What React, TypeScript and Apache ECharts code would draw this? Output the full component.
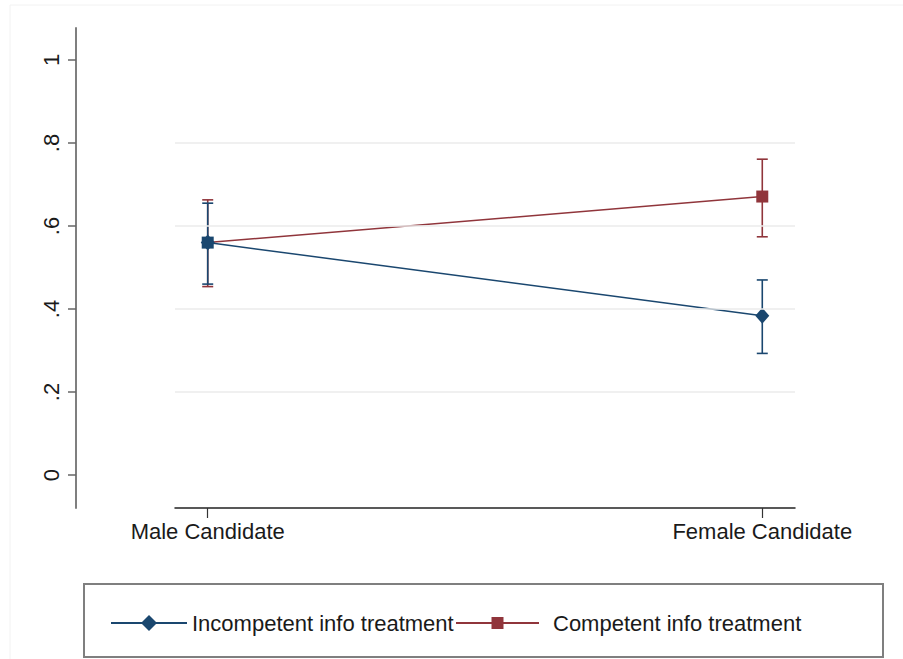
import React, { useEffect, useRef } from "react";
import * as echarts from "echarts";

const categories = ["Male Candidate", "Female Candidate"];
const seriesNames = ["Incompetent info treatment", "Competent info treatment"];
const incompetentMean = [0.56, 0.384];
const incompetentLow = [0.46, 0.293];
const incompetentHigh = [0.655, 0.47];
const competentMean = [0.56, 0.671];
const competentLow = [0.454, 0.574];
const competentHigh = [0.663, 0.761];
const yTicks = [0, 0.2, 0.4, 0.6, 0.8, 1];
const xTicks = [0, 1];
const gridValues = [0.2, 0.4, 0.6, 0.8];

const BLUE = "#1a476f";
const RED = "#90353b";
const FONT = "Liberation Sans, Arial, Helvetica, sans-serif";

function errorBarSeries(name: string, low: number[], high: number[], color: string) {
  return {
    type: "custom",
    name,
    z: 2,
    silent: true,
    data: low.map((l, i) => [i, l, high[i]]),
    encode: { x: 0, y: [1, 2] },
    renderItem: (params: any, api: any) => {
      const x = api.value(0);
      const top = api.coord([x, api.value(2)]);
      const bot = api.coord([x, api.value(1)]);
      const w = 5.5;
      const style = { stroke: color, lineWidth: 1.6 };
      return {
        type: "group",
        children: [
          { type: "line", shape: { x1: top[0], y1: top[1], x2: bot[0], y2: bot[1] }, style },
          { type: "line", shape: { x1: top[0] - w, y1: top[1], x2: top[0] + w, y2: top[1] }, style },
          { type: "line", shape: { x1: bot[0] - w, y1: bot[1], x2: bot[0] + w, y2: bot[1] }, style },
        ],
      };
    },
  };
}

export default function App() {
  const ref = useRef<HTMLDivElement>(null);
  useEffect(() => {
    if (!ref.current) return;
    const chart = echarts.init(ref.current, null, { renderer: "svg" });
    const fmtY = (v: number) => {
      if (v === 0) return "0";
      if (v === 1) return "1";
      return String(Math.round(v * 10) / 10).replace(/^0/, "");
    };
    chart.setOption({
      animation: false,
      backgroundColor: "#ffffff",
      grid: { left: 175, right: 108, top: 28, bottom: 151, containLabel: false },
      xAxis: {
        type: "value",
        min: -0.059,
        max: 1.059,
        axisLine: { show: true, onZero: false, lineStyle: { color: "#222", width: 1.5 } },
        axisTick: { show: true, length: 10, customValues: xTicks, lineStyle: { color: "#333", width: 1.2 } },
        axisLabel: {
          customValues: xTicks,
          formatter: (v: number) => categories[Math.round(v)] ?? "",
          fontSize: 22,
          fontFamily: FONT,
          color: "#1a1a1a",
          margin: 12,
        },
        splitLine: { show: false },
      },
      yAxis: {
        type: "value",
        min: -0.0795,
        max: 1.0771,
        offset: 99,
        axisLine: { show: true, onZero: false, lineStyle: { color: "#7f7f7f", width: 2 } },
        axisTick: { show: true, length: 8, customValues: yTicks, lineStyle: { color: "#666", width: 1.5 } },
        axisLabel: {
          customValues: yTicks,
          rotate: 90,
          formatter: fmtY,
          fontSize: 22,
          fontFamily: FONT,
          color: "#1a1a1a",
          margin: 14,
        },
        splitLine: { show: false },
      },
      legend: [
        {
          data: [seriesNames[0]],
          left: 110,
          top: 612,
          padding: 0,
          itemWidth: 76,
          itemHeight: 20,
          selectedMode: false,
          textStyle: { fontSize: 22, fontFamily: FONT, color: "#1a1a1a" },
        },
        {
          data: [seriesNames[1]],
          left: 455,
          top: 612,
          padding: 0,
          itemWidth: 83,
          itemHeight: 15,
          selectedMode: false,
          textStyle: { fontSize: 22, fontFamily: FONT, color: "#1a1a1a", padding: [0, 0, 0, 9] },
        },
      ],
      graphic: [
        {
          type: "rect",
          shape: { x: 10, y: 5, width: 950, height: 700 },
          style: { fill: "none", stroke: "#f2f2f2", lineWidth: 1 },
          silent: true,
          z: -1,
        },
        {
          type: "rect",
          shape: { x: 84, y: 584, width: 799, height: 73 },
          style: { fill: "none", stroke: "#7f7f7f", lineWidth: 2 },
          silent: true,
        },
      ],
      series: [
        {
          type: "line",
          name: "gridlines",
          data: [],
          z: 1,
          silent: true,
          markLine: {
            silent: true,
            symbol: "none",
            label: { show: false },
            lineStyle: { color: "#ebebeb", width: 1.5, type: "solid" },
            data: gridValues.map((v) => ({ yAxis: v })),
          },
        },
        errorBarSeries("ci-competent", competentLow, competentHigh, RED),
        errorBarSeries("ci-incompetent", incompetentLow, incompetentHigh, BLUE),
        {
          type: "line",
          name: seriesNames[1],
          data: competentMean.map((v, i) =>
            i === 0 ? { value: [i, v], itemStyle: { color: BLUE } } : { value: [i, v] }
          ),
          z: 3,
          symbol: "rect",
          symbolSize: 12,
          color: RED,
          lineStyle: { color: RED, width: 1.5 },
          itemStyle: { color: RED },
        },
        {
          type: "line",
          name: seriesNames[0],
          data: incompetentMean.map((v, i) => [i, v]),
          z: 4,
          symbol: "diamond",
          symbolSize: [14, 16],
          color: BLUE,
          lineStyle: { color: BLUE, width: 1.5 },
          itemStyle: { color: BLUE },
        },
      ],
    });
    return () => chart.dispose();
  }, []);
  return (
    <div
      ref={ref}
      style={{ position: "fixed", left: 0, top: 0, width: 903, height: 659, background: "#fff" }}
    />
  );
}
